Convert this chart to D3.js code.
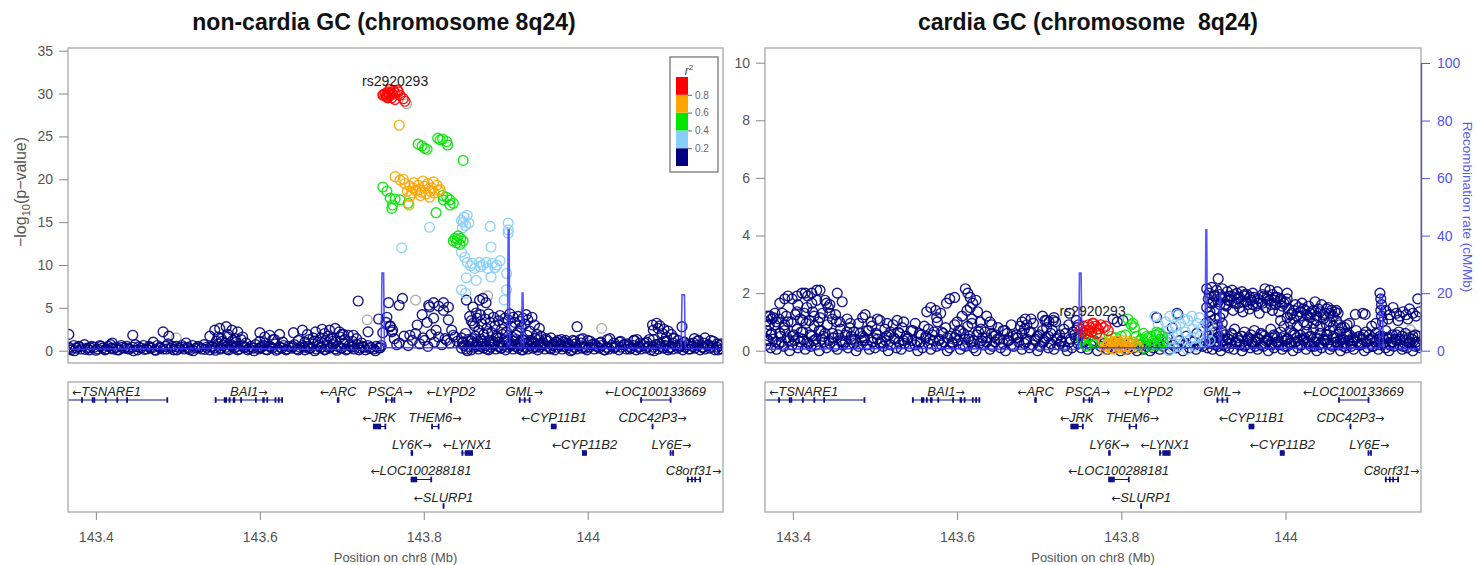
<!DOCTYPE html>
<html><head><meta charset="utf-8">
<script src="https://cdn.jsdelivr.net/npm/d3@7"></script>
<style>
body{margin:0;background:#fff}
svg{font-family:"Liberation Sans",Arial,Helvetica,sans-serif}
</style>
</head><body>
<script>
// Positions are kb offsets from chr8:143,000,000 ; values are -log10(p)
const xDomainKb = [366, 1165];
const xTicks = [400, 600, 800, 1000];
const xTickLabels = ["143.4", "143.6", "143.8", "144"];
const ncYTicks = [0, 5, 10, 15, 20, 25, 30, 35];
const cYTicks = [0, 2, 4, 6, 8, 10];
const recombTicks = [0, 20, 40, 60, 80, 100];
const ldBreaks = [0.2, 0.4, 0.6, 0.8];
const ldColors = ["#000080", "#87cefa", "#00e600", "#ffa500", "#ff0000"];
const leadSnp = {id: "rs2920293", pos: 765};
const ncLeadLogP = 30.1;
const cLeadLogP = 0.95;

// recombination rate (cM/Mb)
const recomb = [[366,0.5],[560,0.8],[700,0.4],[748,0.5],[749,27],[751,27],[752,1.0],[902,1.0],[903,42],[904,42],[905,1.2],[919,1.0],[920,20],[921,20],[922,1.0],[1000,0.8],[1114,0.8],[1115,19.4],[1118,19.4],[1119,0.8],[1165,0.6]];

// ---------- non-cardia GC ----------
const ncNavyBand = [[367,0.4],[370,0.1],[373,0.6],[376,0.3],[379,0.5],[382,0.2],[386,0.7],[389,0.3],[392,0.1],[395,0.5],[398,0.4],[402,0.2],[405,0.6],[408,0.3],[411,0.1],[415,0.5],[418,0.7],[421,0.2],[425,0.4],[428,0.1],[431,0.6],[435,0.3],[438,0.5],[441,0.2],[445,0.4],[448,0.7],[451,0.1],[455,0.3],[458,0.6],[462,0.2],[465,0.5],[468,0.3],[472,0.1],[475,0.6],[478,0.4],[482,0.2],[485,0.5],[488,0.8],[492,0.3],[495,0.1],[498,0.5],[502,0.3],[505,0.6],[508,0.2],[512,0.4],[515,0.1],[518,0.6],[522,0.3],[525,0.5],[529,0.2],[532,0.7],[535,0.4],[539,0.1],[542,0.5],[545,0.3],[549,0.8],[552,0.2],[555,0.6],[559,0.4],[562,0.1],[565,0.7],[569,0.3],[572,0.5],[575,0.2],[579,0.6],[582,0.4],[585,0.1],[589,0.5],[592,0.3],[595,0.7],[599,0.2],[602,0.4],[605,0.6],[609,0.1],[612,0.5],[615,0.3],[619,0.8],[622,0.2],[625,0.4],[629,0.6],[632,0.1],[635,0.5],[639,0.3],[642,0.7],[645,0.2],[649,0.4],[652,0.6],[655,0.1],[659,0.5],[662,0.3],[665,0.8],[669,0.2],[672,0.6],[675,0.4],[679,0.1],[682,0.5],[685,0.3],[689,0.7],[692,0.2],[695,0.5],[699,0.3],[702,0.8],[705,0.1],[709,0.6],[712,0.4],[715,0.2],[719,0.7],[722,0.3],[725,0.5],[729,0.1],[732,0.6],[735,0.4],[739,0.2],[742,0.5],[745,0.3],[748,0.6],
[846,0.3],[849,0.6],[852,0.2],[855,0.5],[858,0.1],[861,0.4],[864,0.7],[867,0.2],[870,0.5],[873,0.3],[876,0.6],[879,0.1],[882,0.4],[885,0.7],[888,0.2],[891,0.5],[894,0.3],[897,0.6],[900,0.1],[903,0.4],[906,0.7],[909,0.2],[912,0.5],[915,0.3],[918,0.6],[921,0.1],[924,0.4],[927,0.2],[930,0.6],[933,0.3],[936,0.5],[939,0.1],[942,0.4],[945,0.7],[948,0.2],[951,0.5],[954,0.3],[957,0.6],[960,0.1],[963,0.4],[966,0.7],[969,0.2],[972,0.5],[975,0.3],[978,0.6],[981,0.1],[984,0.4],[987,0.2],[990,0.6],[993,0.3],[996,0.5],[999,0.1],[1002,0.4],[1005,0.7],[1008,0.2],[1011,0.5],[1014,0.3],[1017,0.6],[1020,0.1],[1023,0.4],[1026,0.2],[1029,0.6],[1032,0.3],[1035,0.5],[1038,0.1],[1041,0.4],[1044,0.7],[1047,0.2],[1050,0.5],[1053,0.3],[1056,0.6],[1059,0.1],[1062,0.4],[1065,0.2],[1068,0.6],[1071,0.3],[1074,0.5],[1077,0.1],[1080,0.4],[1083,0.7],[1086,0.2],[1089,0.5],[1092,0.3],[1095,0.6],[1098,0.1],[1101,0.4],[1104,0.2],[1107,0.6],[1110,0.3],[1113,0.5],[1116,0.1],[1119,0.4],[1122,0.7],[1125,0.2],[1128,0.5],[1131,0.3],[1134,0.6],[1137,0.1],[1140,0.4],[1143,0.2],[1146,0.6],[1149,0.3],[1152,0.5],[1155,0.1],[1158,0.4],[1161,0.6],[1164,0.2],
[848,1.0],[854,1.3],[860,0.9],[866,1.1],[872,0.8],[880,1.2],[886,0.9],[892,1.0],[898,1.3],[904,0.8],[910,1.1],[916,0.9],[922,1.2],[928,1.0],[934,0.8],[940,1.3],[946,0.9],[952,1.1],[958,0.8],[964,1.2],[970,1.0],[976,0.8],[984,1.1],[992,0.9],[1000,1.2],[1008,0.8],[1016,1.0],[1024,1.3],[1032,0.9],[1040,1.1],[1048,0.8],[1056,1.2],[1064,0.9],[1072,1.0],[1080,1.3],[1088,0.8],[1096,1.1],[1104,0.9],[1110,1.2],[1118,1.0],[1126,0.8],[1134,1.1],[1142,0.9],[1150,1.2],[1158,0.8]];
const ncNavyExtra = [[368,0.25],[374,0],[380,0.45],[387,0.15],[393,0.35],[400,0.05],[406,0.5],[413,0.2],[419,0.3],[426,0.1],[432,0.4],[439,0.25],[446,0],[452,0.45],[459,0.15],[466,0.35],[473,0.05],[479,0.3],[486,0.2],[493,0.5],[499,0.1],[506,0.4],[513,0.25],[519,0],[526,0.35],[533,0.15],[540,0.45],[546,0.05],[553,0.3],[560,0.2],[566,0.5],[573,0.1],[580,0.4],[587,0.25],[593,0],[600,0.35],[607,0.15],[613,0.45],[620,0.05],[627,0.3],[633,0.2],[640,0.5],[647,0.1],[654,0.4],[660,0.25],[667,0],[674,0.35],[680,0.15],[687,0.45],[694,0.05],[700,0.3],[707,0.2],[714,0.5],[721,0.1],[727,0.4],[734,0.25],[741,0],[747,0.35],
[847,0.9],[853,0],[859,1.4],[865,0.5],[871,1.1],[877,0.2],[883,0.8],[889,1.5],[895,0.3],[901,1.0],[907,0.6],[913,1.3],[919,0.1],[925,0.9],[931,1.2],[937,0.4],[943,0.7],[949,1.4],[955,0.2],[961,1.0],[967,0.5],[973,1.2],[979,0],[985,0.8],[991,1.3],[997,0.3],[1003,1.1],[1009,0.6],[1015,0.9],[1021,0.1],[1027,1.4],[1033,0.4],[1039,1.0],[1045,0.7],[1051,0.2],[1057,1.2],[1063,0.5],[1069,0.9],[1075,1.3],[1081,0],[1087,0.8],[1093,1.1],[1099,0.3],[1105,1.4],[1111,0.6],[1117,1.0],[1123,0.2],[1129,0.9],[1135,1.2],[1141,0.4],[1147,0.7],[1153,1.1],[1159,0.1],[1163,0.8]];
const ncNavyBumps = [[547,1.1],[553,1.4],[558,0.9],[561,1.6],[567,1.2],[571,1.0],[577,1.3],[583,0.9],[600,1.1],[606,0.9],[616,1.3],[655,1.0],[660,1.3],[667,1.1],[674,1.5],[680,1.2],[687,1.4],[693,1.0],[698,1.6],[704,1.3],[708,1.8],[713,1.1],[718,1.4],[724,0.9],[700,1.9],[420,0.9],[470,1.0],[510,0.9],
[367,1.9],[445,1.8],[482,2.2],[489,1.7],[545,2.4],[551,2.6],[559,2.8],[566,2.4],[573,2.2],[561,1.9],[549,1.6],[539,1.7],[579,1.6],[554,1.1],[570,1.4],[600,2.1],[606,1.6],[612,1.8],[618,1.3],[624,1.9],[628,1.0],[641,2.1],[652,2.4],[668,2.2],[676,2.5],[685,2.4],[692,2.6],[697,2.2],[683,1.7],[665,1.5],[647,1.2],[671,1.0],[689,1.1],[702,1.9],[658,1.9],[679,2.0],[714,1.8],[720,5.8],[732,2.2],[745,3.7],[754,3.3],[759,2.9],[762,2.4],[750,2.1]];
const ncNavyPeak = [[757,5.6],[774,6.1],[770,5.3],[755,3.9],[759,2.8],[761,2.2],[767,0.7],[783,1.8],[792,3.0],[798,4.2],[804,3.3],[812,3.8],[807,5.1],[815,2.4],[801,1.2],[824,4.7],[828,1.2],[806,5.3],[812,5.6],[818,5.2],[824,5.6],[830,5.1],[830,3.6],[834,2.4],[838,1.6],[852,5.9],[860,5.1],[868,5.9],[872,6.1],[876,5.6],[864,4.4],[860,3.2],
[856,4.0],[858,3.5],[862,2.9],[865,3.8],[867,2.4],[869,4.2],[871,3.1],[873,1.9],[875,3.7],[877,2.6],[879,4.3],[881,3.3],[883,2.1],[885,3.9],[887,2.9],[889,1.7],[891,3.5],[893,4.1],[895,2.5],[897,3.2],[899,3.8],[901,2.2],[903,3.6],[905,4.3],[907,2.8],[909,3.9],[911,3.3],[913,1.8],[915,4.0],[917,3.4],[919,2.7],[921,3.8],[923,3.1],[925,4.2],[927,3.6],[929,2.3],[932,3.9],[935,3.0],[938,1.9],[941,2.6],
[846,1.5],[851,2.0],[857,1.2],[863,1.7],[870,1.3],[878,2.0],[884,1.1],[890,1.5],[896,1.9],[902,1.2],[908,1.6],[914,2.1],[920,1.3],[926,1.8],[931,1.0],[936,1.4],[943,1.7],[949,1.2],[955,1.5],[962,1.0],[968,1.3],[975,0.9],[982,1.2],
[764,1.4],[770,0.9],[776,1.7],[781,0.6],[786,1.2],[790,2.0],[795,0.8],[799,1.5],[805,0.5],[809,1.9],[813,1.0],[818,1.6],[822,0.7],[826,1.4],[832,0.9],[836,1.8],[841,1.1],
[1079,3.0],[1084,3.2],[1088,2.9],[1093,2.5],[1098,2.3],[1102,1.9],[1086,2.6],[1091,2.0],[1096,1.6],[1080,2.4],[1105,1.5],[987,2.8],[1115,2.8],[1143,1.5],[994,1.4],[1060,1.3],[1130,1.4]];
const ncGrey = [[498,1.5],[731,3.6],[790,5.9],[878,6.4],[1017,2.6],[779,28.8]];
const ncLightBlue = [[807,14.4],[773,12.0],[849,15.6],[848,15.0],[851,14.6],[847,14.3],[881,14.5],[903,14.9],[903,14.1],[846,11.5],[850,10.9],[853,10.3],[859,10.2],[868,10.3],[876,10.3],[884,10.2],[893,10.5],[862,9.6],[869,9.8],[878,9.6],[887,9.7],[882,8.6],[852,8.5],[864,8.2],[882,12.1],[846,7.1],[901,7.1],[898,5.9],[851,6.7],[903,13.7],[901,9.0],[872,10.0],[889,10.0],[857,9.9],[846,15.2],[853,15.8],[855,14.9]];
const ncGreen = [[793,24.1],[801,23.6],[804,23.5],[817,24.8],[823,24.7],[828,24.4],[829,24.0],[848,22.2],[798,23.9],[820,24.6],[750,19.1],[755,18.6],[759,17.8],[765,17.7],[771,17.6],[762,17.0],[761,16.6],[781,17.2],[823,18.1],[828,17.9],[832,17.6],[832,17.0],[815,16.1],[824,17.6],[836,17.2],[838,13.1],[842,13.4],[845,13.1],[840,12.6],[844,12.4],[836,12.8],[848,12.8],[841,13.0]];
const ncOrange = [[770,26.3],[765,20.3],[771,19.9],[777,19.5],[783,19.2],[787,19.0],[793,19.3],[795,18.8],[801,19.2],[805,19.5],[810,19.0],[816,19.3],[820,18.8],[780,18.6],[785,18.4],[790,18.7],[797,18.5],[803,18.3],[808,18.6],[813,18.4],[818,18.7],[788,19.6],[799,19.8],[812,19.7],[783,18.0],[796,18.1],[807,17.9],[775,20.0],[782,17.0]];
const ncRed = [[750,29.8],[756,30.2],[760,30.1],[765,30.1],[768,30.4],[771,29.8],[775,29.4],[777,29.1],[765,29.3],[755,29.6],[761,29.5],[753,30.0],[759,30.5],[763,30.3],[769,30.2],[751,29.9],[754,29.7],[757,30.0],[758,29.8],[762,29.9],[756,29.5]];

// ---------- cardia GC ----------
const cNavyBand = [[367,0.2],[370,0.35],[373,0.1],[376,0.4],[380,0.05],[383,0.25],[386,0.3],[389,0.15],[393,0.45],[396,0],[399,0.2],[402,0.35],[406,0.1],[409,0.3],[412,0.4],[415,0.05],[419,0.25],[422,0.15],[425,0.35],[428,0.2],[432,0],[435,0.4],[438,0.3],[441,0.1],[445,0.25],[448,0.45],[451,0.15],[454,0.05],[458,0.35],[461,0.2],[464,0.3],[467,0.1],[471,0.4],[474,0.25],[477,0],[480,0.15],[484,0.35],[487,0.45],[490,0.2],[493,0.05],[497,0.3],[500,0.1],[503,0.4],[506,0.25],[510,0.15],[513,0.35],[516,0],[519,0.2],[523,0.45],[526,0.1],[529,0.3],[532,0.05],[536,0.25],[539,0.4],[542,0.15],[545,0.35],[549,0.2],[552,0],[555,0.3],[558,0.1],[562,0.45],[565,0.25],[568,0.05],[571,0.35],[575,0.15],[578,0.4],[581,0.2],[584,0.3],[588,0],[591,0.1],[594,0.25],[597,0.45],[601,0.35],[604,0.05],[607,0.2],[610,0.15],[614,0.4],[617,0.3],[620,0.1],[623,0],[627,0.25],[630,0.35],[633,0.2],[636,0.45],[640,0.05],[643,0.15],[646,0.3],[649,0.4],[653,0.1],[656,0.25],[659,0],[662,0.35],[666,0.2],[669,0.15],[672,0.45],[675,0.3],[679,0.05],[682,0.25],[685,0.4],[688,0.1],[692,0.2],[695,0.35],[698,0],[701,0.15],[705,0.3],[708,0.45],[711,0.1],[714,0.25],[718,0.05],[721,0.4],[724,0.2],[727,0.35],[731,0.15],[734,0],[737,0.3],[740,0.1],[744,0.45],[747,0.25],
[368,0.7],[373,0.55],[378,0.9],[384,0.6],[389,0.8],[394,1],[400,0.5],[405,0.75],[410,0.65],[416,0.95],[421,0.55],[426,0.85],[432,0.7],[437,0.5],[442,0.9],[448,0.6],[453,1],[458,0.75],[464,0.55],[469,0.8],[474,0.65],[480,0.95],[485,0.5],[490,0.7],[496,0.85],[501,0.6],[506,1.05],[512,0.75],[517,0.55],[522,0.9],[528,0.65],[533,0.8],[538,0.5],[544,0.7],[549,0.95],[554,0.6],[560,0.85],[565,0.75],[570,0.55],[576,1],[581,0.65],[586,0.8],[592,0.5],[597,0.9],[602,0.7],[608,0.6],[613,0.85],[618,0.95],[624,0.55],[629,0.75],[634,0.65],[640,1],[645,0.5],[650,0.8],[656,0.7],[661,0.6],[666,0.9],[672,0.55],[677,0.85],[682,0.75],[688,0.65],[693,0.95],[698,0.5],[704,0.7],[709,0.8],[714,0.6],[720,1],[725,0.55],[730,0.75],[736,0.9],[741,0.65],[746,0.8],
[751,0.1],[755,0.3],[759,0.05],[763,0.2],[767,0.35],[771,0],[775,0.15],[779,0.25],[783,0.05],[787,0.2],[791,0.1],[795,0.3],[799,0],[803,0.15],[807,0.05],[811,0.25],[815,0.1],[819,0],[823,0.2],[827,0.05],[831,0.15],[835,0],[839,0.1],[843,0.25],[847,0.05],[851,0.15],[855,0.3],[859,0.05],[863,0.2],[867,0.1],[871,0.35],[875,0],[879,0.25],[883,0.1],[887,0.3],[891,0.05],[895,0.2],[899,0.15],[903,0.3]];
const cNavyExtra = [[369,0.4],[374,0.6],[379,0.3],[385,0.5],[390,0.7],[395,0.35],[401,0.55],[407,0.45],[412,0.65],[417,0.3],[423,0.5],[428,0.4],[434,0.7],[439,0.6],[444,0.35],[450,0.45],[455,0.55],[460,0.3],[466,0.65],[471,0.5],[476,0.4],[482,0.6],[487,0.35],[492,0.7],[498,0.45],[503,0.55],[508,0.3],[514,0.5],[519,0.65],[524,0.4],[530,0.6],[535,0.35],[540,0.45],[546,0.7],[551,0.3],[556,0.55],[562,0.5],[567,0.4],[572,0.65],[578,0.35],[583,0.6],[588,0.45],[594,0.3],[599,0.55],[604,0.7],[610,0.4],[615,0.5],[620,0.35],[626,0.65],[631,0.45],[636,0.3],[642,0.6],[647,0.55],[652,0.4],[658,0.7],[663,0.35],[668,0.5],[674,0.45],[679,0.6],[684,0.3],[690,0.65],[695,0.4],[700,0.55],[706,0.35],[711,0.5],[716,0.7],[722,0.45],[727,0.3],[732,0.6],[738,0.4],[743,0.55],[748,0.5],
[907,0.3],[911,0.45],[915,0.2],[919,0.5],[923,0.35],[927,0.15],[931,0.4],[935,0.55],[939,0.25],[943,0.35],[947,0.5],[951,0.2],[955,0.45],[959,0.3],[963,0.15],[967,0.4],[971,0.55],[975,0.25],[979,0.35],[983,0.2],[987,0.5],[991,0.3],[995,0.45],[999,0.15],[1003,0.4],[1007,0.25],[1011,0.55],[1015,0.35],[1019,0.2],[1023,0.45],[1027,0.3],[1031,0.5],[1035,0.15],[1039,0.4],[1043,0.25],[1047,0.35],[1051,0.55],[1055,0.2],[1059,0.45],[1063,0.3],[1067,0.4],[1071,0.15],[1075,0.5],[1079,0.25],[1083,0.35],[1087,0.45],[1091,0.2],[1095,0.55],[1099,0.3],[1103,0.4],[1107,0.15],[1111,0.35],[1115,0.5],[1119,0.25],[1123,0.45],[1127,0.2],[1131,0.3],[1135,0.55],[1139,0.4],[1143,0.15],[1147,0.35],[1151,0.25],[1155,0.5],[1159,0.3],[1163,0.2],
[906,1.8],[910,1.65],[914,1.9],[918,1.7],[922,1.85],[926,1.6],[930,1.75],[934,1.9],[938,1.65],[942,1.8],[946,1.7],[950,1.95],[954,1.6],[958,1.75],[962,1.85],[966,1.65],[970,1.7],[974,1.9],[978,1.8],[982,1.6],[986,1.75],[990,1.85],[994,1.7],[998,1.65],[1002,1.8],[1006,1.25],[1010,1.4],[1014,1.2],[1018,1.35],[1022,1.45],[1026,1.25],[1030,1.3],[1034,1.4],[1038,1.2],[1042,1.35],[1046,1.25],[1050,1.45],[1054,1.3],[1058,1.2],[1062,1.4]];
const cNavyHump = [[372,1.2],[378,1.3],[384,1.65],[390,1.8],[394,1.9],[399,1.8],[405,1.9],[411,2.0],[418,1.9],[423,2.0],[429,2.1],[433,2.1],[441,1.65],[445,1.6],[454,2.0],[460,1.7],[405,1.35],[417,1.5],[424,1.35],[433,1.15],[412,1.05],[445,1.3],[390,0.9],[406,1.6],[415,2.0],[429,1.75],[439,1.75],[443,1.5],[423,1.65],[387,1.3],[376,1.15],[367,1.0],[369,1.2],[371,0.9],[374,1.1],[380,1.0],
[383,1.1],[392,1.2],[398,1.0],[403,1.25],[409,1.1],[414,1.3],[420,1.05],[426,1.2],[431,1.0],[436,1.3],[448,1.1],[452,1.25],[457,1.0],[466,1.1],[470,0.95],[495,1.0],[503,1.1],[515,0.95],[527,1.05],[535,1.0],
[488,1.25],[485,1.15],[563,1.35],[568,1.5],[574,1.4],[580,1.3],[587,1.65],[591,1.8],[575,1.15],[597,1.85],[610,2.15],[613,2.0],[616,1.85],[619,1.65],[623,1.75],[616,1.5],[612,1.4],[625,1.35],[606,1.2],[618,1.1],[628,1.0],[636,1.2],[642,0.9],[600,1.0],[683,1.1],[707,1.05],[704,1.2],[712,1.0],[718,1.15],[679,1.0],[685,0.9],[690,1.1],[709,1.05],[717,1.05],[737,1.3],
[790,1.1],[795,1.0],[802,1.05],[843,1.15],[869,1.25],[868,1.3],[856,0.45],[862,0.8],[879,0.5],[892,0.6],[903,0.95],[750,0.55],[748,0.9],[745,1.05]];
const cNavyPost = [[905,0.1],[908,0.25],[911,0.05],[914,0.3],[918,0.15],[921,0],[924,0.2],[927,0.35],[931,0.1],[934,0.25],[937,0.05],[940,0.3],[944,0.2],[947,0],[950,0.15],[953,0.35],[957,0.1],[960,0.25],[963,0.3],[966,0.05],[970,0.2],[973,0.15],[976,0.35],[979,0],[983,0.25],[986,0.1],[989,0.3],[992,0.2],[996,0.05],[999,0.35],[1002,0.15],[1005,0.25],[1009,0],[1012,0.3],[1015,0.1],[1018,0.2],[1022,0.35],[1025,0.05],[1028,0.25],[1031,0.15],[1035,0.3],[1038,0],[1041,0.2],[1044,0.1],[1048,0.35],[1051,0.25],[1054,0.05],[1057,0.15],[1061,0.3],[1064,0.2],[1067,0],[1070,0.25],[1074,0.1],[1077,0.35],[1080,0.15],[1083,0.05],[1087,0.3],[1090,0.2],[1093,0.25],[1096,0],[1100,0.1],[1103,0.35],[1106,0.15],[1109,0.3],[1113,0.05],[1116,0.2],[1119,0.25],[1122,0.1],[1126,0],[1129,0.3],[1132,0.15],[1135,0.35],[1139,0.2],[1142,0.05],[1145,0.25],[1148,0.1],[1152,0.3],[1155,0],[1158,0.15],[1161,0.2],[1164,0.1],
[906,0.5],[910,0.4],[914,0.65],[918,0.45],[922,0.7],[926,0.55],[930,0.4],[934,0.6],[938,0.75],[942,0.45],[946,0.5],[950,0.65],[954,0.4],[958,0.55],[962,0.7],[966,0.45],[970,0.6],[974,0.5],[978,0.4],[982,0.75],[986,0.55],[990,0.45],[994,0.65],[998,0.5],[1002,0.4],[1006,0.7],[1010,0.6],[1014,0.45],[1018,0.55],[1022,0.4],[1026,0.65],[1030,0.5],[1034,0.75],[1038,0.45],[1042,0.6],[1046,0.4],[1050,0.55],[1054,0.7],[1058,0.5],[1062,0.45],[1066,0.65],[1070,0.4],[1074,0.6],[1078,0.55],[1082,0.45],[1086,0.7],[1090,0.5],[1094,0.4],[1098,0.65],[1102,0.55],[1106,0.45],[1110,0.6],[1114,0.4],[1118,0.5],[1122,0.7],[1126,0.45],[1130,0.55],[1134,0.4],[1138,0.65],[1142,0.5],[1146,0.6],[1150,0.45],[1154,0.4],[1158,0.55],[1162,0.5],
[905,1.0],[908,1.2],[911,0.85],[914,1.1],[917,0.9],[920,1.15],[923,0.95],[994,1.05],[998,0.85],[1002,1.15],[1006,0.95],[1010,1.1],[1014,0.85],[1018,1.2],[1022,1.0],[1026,0.9],[1030,1.15],[1034,0.95],[1038,1.05],[1042,0.85],[1046,1.1],[1050,0.9],[1054,1.0],[1058,0.85],[1062,1.05],[1066,0.9],[1072,0.8],[1078,0.95],
[904,1.5],[908,1.35],[912,1.7],[916,1.45],[920,1.6],[924,1.3],[928,1.55],[932,1.75],[936,1.4],[940,1.65],[944,1.5],[948,1.35],[952,1.7],[956,1.45],[960,1.6],[964,1.55],[968,1.3],[972,1.65],[976,1.5],[980,1.75],[984,1.4],[988,1.6],[992,1.35],[996,1.55],[1000,1.7],[1004,1.45],[1008,1.3],[1012,1.6],[1016,1.5],[1020,1.65],[1024,1.4],[1028,1.55],[1032,1.35],[1036,1.7],[1040,1.45],[1044,1.6],[1048,1.3],[1052,1.5],[1056,1.4],[1060,1.35],[1064,1.3],
[904,2.15],[907,2.0],[910,2.2],[913,1.9],[916,2.1],[918,2.5],[920,1.95],[923,2.15],[926,1.85],[929,2.05],[932,1.9],[935,2.1],[938,1.95],[941,2.0],[944,1.85],[947,2.05],[950,1.9],[953,1.95],[957,1.85],[960,2.0],[966,1.8],[972,1.95],[975,2.15],[978,1.9],[981,2.1],[984,1.95],[987,1.85],[990,2.05],[994,1.8],[1002,2.0],
[1085,1.26],[1097,1.26],[1094,1.3],[1115,2.0],[1116,1.8],[1117,1.6],[1116,1.4],[1117,1.2],[1118,1.0],[1122,1.4],[1127,1.25],[1131,1.5],[1135,1.3],[1139,1.2],[1143,1.35],[1147,1.25],[1151,1.45],[1155,1.3],[1159,1.2],[1163,1.35],[1125,1.1],[1137,1.05],[1149,1.1],[1161,1.8],[1075,0.9],[1068,0.8],[1105,0.85],[1110,0.95]];
const cGrey = [[1152,0.72],[1150,0.55],[1160,0.3]];
const cLightBlue = [[845,0.9],[848,0.6],[851,0.3],[854,1.0],[857,0.7],[860,0.4],[863,0.1],[866,0.85],[869,0.55],[872,0.95],[875,0.25],[878,0.65],[881,1.05],[884,0.4],[887,0.75],[890,0.15],[893,0.95],[896,0.5],[899,0.8],[902,0.3],[905,0.6],[880,0.05],[858,0],[870,0.15],[859,1.2],[868,1.25],[877,1.1],[886,1.2],[895,1.15],[841,1.2],[906,0.9],[908,0.35],[862,0.55],[889,0.45]];
const cGreen = [[752,0.35],[756,0.2],[760,0.45],[765,0.3],[752,0.4],[758,0.15],[763,0.5],[768,0.25],[812,0.9],[816,0.8],[808,1.1],[814,0.95],[815,0.3],[818,0.5],[821,0.2],[824,0.4],[827,0.6],[830,0.25],[833,0.45],[836,0.15],[839,0.35],[842,0.55],[845,0.2],[848,0.4],[851,0.3],[822,0.35],[831,0.5],[840,0.2],[846,0.6],[828,0.1],[836,0.5],[850,0.5],[843,0.65],[847,0.2],[800,0.5],[774,0.45],[805,0.55],[788,0.5],[793,0.45]];
const cOrange = [[778,0.3],[781,0.15],[784,0.25],[787,0.1],[790,0.3],[793,0.2],[796,0.1],[799,0.25],[802,0.35],[805,0.15],[808,0.25],[811,0.1],[814,0.3],[817,0.2],[820,0.12],[786,0.35],[795,0.35],[804,0.05],[812,0.22],[800,0.12],[790,0.05],[780,0.05],[783,0.2],[792,0.28],[798,0.18],[809,0.32]];
const cRed = [[751,0.75],[754,0.85],[757,0.7],[760,0.9],[763,0.8],[766,0.95],[769,0.85],[772,0.75],[775,0.9],[778,0.8],[781,0.85],[784,0.7],[756,0.6],[764,0.65],[770,0.6],[765,0.95],[753,0.65],[761,0.7]];

// genes: name, start, end, strand, row, exons (kb offsets)
const genes = [
 {name:"TSNARE1", start:340, end:486, strand:"-", row:0, exons:[[382,383],[395,396],[397,398],[411,413],[425,427],[437,438],[486,486]]},
 {name:"BAI1", start:545, end:628, strand:"+", row:0, exons:[[545,546],[556,560],[562,564],[567,570],[576,577],[594,595],[603,606],[608,610],[618,619],[622,623],[626,628]]},
 {name:"ARC", start:694, end:697, strand:"-", row:0, exons:[[694,697]]},
 {name:"PSCA", start:753, end:765, strand:"+", row:0, exons:[[753,754],[760,761],[763,765]]},
 {name:"LYPD2", start:832, end:834, strand:"-", row:0, exons:[[832,834]]},
 {name:"GML", start:916, end:929, strand:"+", row:0, exons:[[916,917],[922,923],[928,929]]},
 {name:"LOC100133669", start:1064, end:1101, strand:"-", row:0, exons:[[1064,1065],[1100,1101]]},
 {name:"JRK", start:738, end:753, strand:"-", row:1, exons:[[738,748],[752,753]]},
 {name:"THEM6", start:809, end:818, strand:"+", row:1, exons:[[809,810],[817,818]]},
 {name:"CYP11B1", start:955, end:962, strand:"-", row:1, exons:[[955,962]]},
 {name:"CDC42P3", start:1078, end:1080, strand:"+", row:1, exons:[[1078,1080]]},
 {name:"LY6K", start:784, end:787, strand:"+", row:2, exons:[[784,787]]},
 {name:"LYNX1", start:846, end:860, strand:"-", row:2, exons:[[846,847],[850,860]]},
 {name:"CYP11B2", start:993, end:999, strand:"-", row:2, exons:[[993,999]]},
 {name:"LY6E", start:1100, end:1104, strand:"+", row:2, exons:[[1100,1101],[1103,1104]]},
 {name:"LOC100288181", start:784, end:809, strand:"-", row:3, exons:[[784,792],[808,809]]},
 {name:"C8orf31", start:1121, end:1137, strand:"+", row:3, exons:[[1121,1122],[1126,1127],[1130,1131],[1136,1137]]},
 {name:"SLURP1", start:823, end:825, strand:"-", row:4, exons:[[823,825]]}
];

const W = 1477, H = 565;
const svg = d3.select("body").append("svg").attr("width", W).attr("height", H);
const FONT = "'Liberation Sans', Arial, Helvetica, sans-serif";
const greyPt = "#a9a9a9", recombColor = "#3838ff", geneColor = "#10108a", boxColor = "#a8a8a8", textGrey = "#555";

function styleAxis(g, color, size) {
  g.attr("font-family", null).attr("font-size", null);
  g.selectAll("line").attr("stroke", color);
  g.selectAll("text").attr("fill", color).style("font-size", size + "px").style("font-family", FONT);
}

function drawPanel(p) {
  const top = 48, bottom = 363, gTop = 382, gBottom = 512;
  const x = d3.scaleLinear().domain(xDomainKb).range([p.left, p.right]);
  const y = d3.scaleLinear().domain([0, p.yMax]).range([350.7, p.yMaxPx]);
  const yr = d3.scaleLinear().domain([0, 100]).range([350.7, 63]);

  svg.append("text").attr("x", p.titleX).attr("y", 30).attr("text-anchor", "middle")
    .style("font-family", FONT).style("font-weight", "bold").style("font-size", "23px").attr("fill", "#111")
    .style("white-space", "pre").text(p.title);

  const defs = svg.append("defs");
  defs.append("clipPath").attr("id", "clip-" + p.id).append("rect")
    .attr("x", p.left).attr("y", top).attr("width", p.right - p.left).attr("height", bottom - top);
  defs.append("clipPath").attr("id", "gclip-" + p.id).append("rect")
    .attr("x", p.left).attr("y", gTop).attr("width", p.right - p.left).attr("height", gBottom - gTop);

  const plot = svg.append("g").attr("clip-path", `url(#clip-${p.id})`);
  const layers = [[p.grey, greyPt], [p.navy, ldColors[0]], [p.lightBlue, ldColors[1]], [p.green, ldColors[2]], [p.orange, ldColors[3]], [p.red, ldColors[4]]];
  layers.forEach(([arr, col]) => {
    plot.append("g").selectAll("circle").data(arr).join("circle")
      .attr("cx", d => x(d[0])).attr("cy", d => y(d[1])).attr("r", 4.9)
      .attr("fill", "none").attr("stroke", col).attr("stroke-width", 1.4).attr("stroke-opacity", 0.9);
  });
  plot.append("path").datum(recomb).attr("fill", "none").attr("stroke", recombColor)
    .attr("stroke-width", 1.6).attr("stroke-opacity", 0.85)
    .attr("d", d3.line().x(d => x(d[0])).y(d => yr(d[1])));

  svg.append("text").attr("x", x(leadSnp.pos)).attr("y", y(p.leadValue) - 7).attr("text-anchor", "middle")
    .style("font-family", FONT).style("font-size", "14px").attr("fill", "#222").text(leadSnp.id);

  svg.append("rect").attr("x", p.left).attr("y", top).attr("width", p.right - p.left).attr("height", bottom - top)
    .attr("fill", "none").attr("stroke", boxColor).attr("stroke-width", 1.3);

  const ya = svg.append("g").attr("transform", `translate(${p.left},0)`)
    .call(d3.axisLeft(y).tickValues(p.yTicks).tickSize(9).tickPadding(6).tickFormat(d3.format("d")));
  ya.select(".domain").remove();
  styleAxis(ya, textGrey, 14);
  ya.selectAll("line").attr("stroke", "#888");

  if (p.yTitle) {
    const t = svg.append("text").attr("transform", "translate(26,192) rotate(-90)").attr("text-anchor", "middle")
      .style("font-family", FONT).style("font-size", "16px").attr("fill", textGrey);
    t.append("tspan").text("\u2212log");
    t.append("tspan").attr("dy", 4).style("font-size", "11px").text("10");
    t.append("tspan").attr("dy", -4).text("(p\u2212value)");
  }

  if (p.rightAxis) {
    const ra = svg.append("g").attr("transform", `translate(${p.right},0)`)
      .call(d3.axisRight(yr).tickValues(recombTicks).tickSize(9).tickPadding(7).tickSizeOuter(0));
    styleAxis(ra, "#5252f0", 14);
    ra.select(".domain").attr("stroke", "#4a4af5").attr("stroke-width", 1.3);
    svg.append("text").attr("transform", "translate(1463,207) rotate(90)").attr("text-anchor", "middle")
      .style("font-family", FONT).style("font-size", "13.5px").attr("fill", "#5a5af0").text("Recombination rate (cM/Mb)");
  }

  if (p.legend) {
    const lg = svg.append("g");
    lg.append("rect").attr("x", 670).attr("y", 57).attr("width", 48).attr("height", 115)
      .attr("fill", "#fff").attr("stroke", "#888").attr("stroke-width", 1.5);
    const ly = d3.scaleLinear().domain([0, 1]).range([166, 77]);
    const edges = [0].concat(ldBreaks, [1]);
    ldColors.forEach((c, i) => {
      lg.append("rect").attr("x", 676).attr("width", 12)
        .attr("y", ly(edges[i + 1])).attr("height", ly(edges[i]) - ly(edges[i + 1])).attr("fill", c);
    });
    const la = lg.append("g").attr("transform", "translate(688,0)")
      .call(d3.axisRight(ly).tickValues(ldBreaks).tickSize(4).tickPadding(3).tickSizeOuter(0).tickFormat(d3.format(".1f")));
    la.select(".domain").remove();
    styleAxis(la, "#666", 10);
    const rt = lg.append("text").attr("x", 689).attr("y", 75).attr("text-anchor", "middle")
      .style("font-family", FONT).style("font-size", "12px").attr("fill", "#444");
    rt.append("tspan").style("font-style", "italic").text("r");
    rt.append("tspan").attr("dy", -5).style("font-size", "8px").text("2");
  }

  const gg = svg.append("g").attr("clip-path", `url(#gclip-${p.id})`);
  genes.forEach(gn => {
    const ry = 400 + gn.row * 26.5;
    gg.append("line").attr("x1", x(gn.start)).attr("x2", x(gn.end)).attr("y1", ry).attr("y2", ry)
      .attr("stroke", geneColor).attr("stroke-width", 1);
    gn.exons.forEach(e => {
      const w = Math.max(x(e[1]) - x(e[0]), 1.8);
      gg.append("rect").attr("x", x(e[0])).attr("y", ry - 2.8).attr("width", w).attr("height", 5.6).attr("fill", geneColor);
    });
    const t = gg.append("text").attr("x", x((gn.start + gn.end) / 2)).attr("y", ry - 4.5).attr("text-anchor", "middle")
      .style("font-family", FONT).style("font-size", "13px").attr("fill", "#222");
    const arrow = (s) => t.append("tspan").style("font-family", "'DejaVu Sans', sans-serif").style("font-size", "11px").text(s);
    if (gn.strand === "-") { arrow("\u2190"); t.append("tspan").style("font-style", "italic").text(gn.name); }
    else { t.append("tspan").style("font-style", "italic").text(gn.name); arrow("\u2192"); }
  });
  svg.append("rect").attr("x", p.left).attr("y", gTop).attr("width", p.right - p.left).attr("height", gBottom - gTop)
    .attr("fill", "none").attr("stroke", boxColor).attr("stroke-width", 1.3);

  const xa = svg.append("g").attr("transform", `translate(0,${gBottom})`)
    .call(d3.axisBottom(x).tickValues(xTicks).tickSize(8).tickPadding(12).tickFormat((d, i) => xTickLabels[i]));
  xa.select(".domain").remove();
  styleAxis(xa, textGrey, 14);
  xa.selectAll("line").attr("stroke", "#888");

  svg.append("text").attr("x", (p.left + p.right) / 2).attr("y", 562).attr("text-anchor", "middle")
    .style("font-family", FONT).style("font-size", "13px").attr("fill", textGrey).text("Position on chr8 (Mb)");
}

drawPanel({id: "nc", left: 68, right: 723, yMax: 35, yMaxPx: 50.7, yTicks: ncYTicks, titleX: 384,
  title: "non-cardia GC (chromosome 8q24)", leadValue: ncLeadLogP, yTitle: true, rightAxis: false, legend: true,
  navy: ncNavyBand.concat(ncNavyExtra, ncNavyBumps, ncNavyPeak), grey: ncGrey, lightBlue: ncLightBlue, green: ncGreen, orange: ncOrange, red: ncRed});
drawPanel({id: "c", left: 765, right: 1421, yMax: 10, yMaxPx: 62.7, yTicks: cYTicks, titleX: 1088,
  title: "cardia GC (chromosome  8q24)", leadValue: cLeadLogP, yTitle: false, rightAxis: true, legend: false,
  navy: cNavyBand.concat(cNavyExtra, cNavyHump, cNavyPost), grey: cGrey, lightBlue: cLightBlue, green: cGreen, orange: cOrange, red: cRed});
</script>
</body></html>
